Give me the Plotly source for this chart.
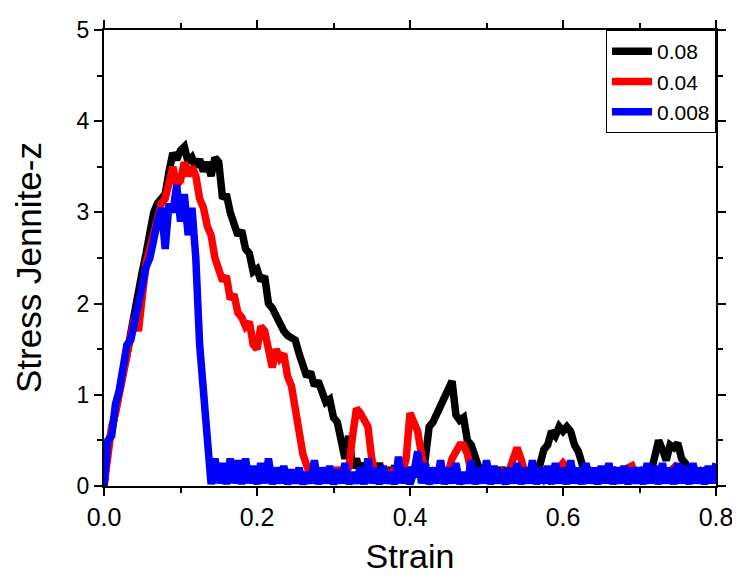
import numpy as np
import plotly.graph_objects as go

# strain grid (step 0.005, 0 .. 0.8)
strain = np.round(np.arange(0, 0.8001, 0.005), 3)

# stress for each rate
stress_008 = [
    0.0, 0.45, 0.6, 0.85, 1.05, 1.25, 1.45, 1.7, 1.9, 2.1,
    2.35, 2.55, 2.8, 3.0, 3.1, 3.15, 3.2, 3.45, 3.65, 3.58,
    3.68, 3.72, 3.55, 3.6, 3.5, 3.58, 3.45, 3.55, 3.4, 3.6,
    3.55, 3.15, 3.2, 3.0, 2.85, 2.75, 2.8, 2.6, 2.55, 2.35,
    2.38, 2.25, 2.3, 2.0, 1.95, 1.85, 1.8, 1.7, 1.65, 1.62,
    1.6, 1.45, 1.3, 1.2, 1.25, 1.1, 1.15, 1.0, 0.92, 0.95,
    0.75, 0.7, 0.5, 0.3, 0.55, 0.2, 0.3, 0.15, 0.25, 0.1,
    0.2, 0.1, 0.25, 0.1, 0.2, 0.08, 0.22, 0.1, 0.18, 0.1,
    0.2, 0.1, 0.22, 0.1, 0.3, 0.65, 0.7, 0.8, 0.85, 0.95,
    1.05, 1.15, 0.78, 0.72, 0.75, 0.5, 0.45, 0.3, 0.2, 0.1,
    0.2, 0.1, 0.18, 0.08, 0.2, 0.1, 0.15, 0.1, 0.2, 0.08,
    0.18, 0.1, 0.2, 0.08, 0.25, 0.4, 0.45, 0.6, 0.55, 0.65,
    0.6, 0.65, 0.6, 0.45, 0.38, 0.2, 0.1, 0.15, 0.08, 0.18,
    0.1, 0.15, 0.08, 0.2, 0.1, 0.15, 0.08, 0.18, 0.1, 0.15,
    0.08, 0.2, 0.1, 0.15, 0.3, 0.5, 0.4, 0.28, 0.45, 0.42,
    0.47, 0.3, 0.25, 0.1, 0.18, 0.08, 0.15, 0.1, 0.18, 0.1,
    0.15,
]

stress_004 = [
    0.0, 0.4, 0.65, 0.8, 1.0, 1.2, 1.45, 1.65, 1.85, 1.7,
    2.15, 2.45, 2.6, 2.8, 3.0, 3.1, 3.15, 3.3, 3.5, 3.3,
    3.35, 3.55, 3.4, 3.5, 3.4, 3.15, 3.05, 2.85, 2.75, 2.5,
    2.4, 2.25, 2.3, 2.05, 2.1, 1.9, 1.85, 1.75, 1.8, 1.55,
    1.5, 1.75, 1.7, 1.45, 1.3, 1.5, 1.4, 1.45, 1.2, 1.1,
    0.8, 0.6, 0.35, 0.2, 0.1, 0.2, 0.08, 0.18, 0.1, 0.15,
    0.08, 0.2, 0.1, 0.15, 0.2, 0.55, 0.85, 0.8, 0.7, 0.65,
    0.3, 0.1, 0.18, 0.08, 0.15, 0.1, 0.2, 0.08, 0.15, 0.3,
    0.8, 0.7, 0.6, 0.35, 0.15, 0.08, 0.15, 0.1, 0.2, 0.08,
    0.15, 0.3, 0.4, 0.45, 0.45, 0.35, 0.15, 0.08, 0.18, 0.1,
    0.15, 0.08, 0.2, 0.1, 0.15, 0.08, 0.18, 0.3, 0.42, 0.3,
    0.15, 0.08, 0.18, 0.1, 0.15, 0.08, 0.15, 0.1, 0.2, 0.2,
    0.25, 0.2, 0.1, 0.15, 0.08, 0.12, 0.08, 0.15, 0.1, 0.12,
    0.08, 0.15, 0.1, 0.12, 0.08, 0.15, 0.1, 0.2, 0.22, 0.12,
    0.08, 0.15, 0.1, 0.12, 0.08, 0.15, 0.1, 0.12, 0.15, 0.2,
    0.1, 0.12, 0.08, 0.15, 0.1, 0.12, 0.08, 0.15, 0.1, 0.12,
    0.1,
]

stress_0008 = [
    0.0, 0.5, 0.55, 0.9, 1.05, 1.3, 1.55, 1.6, 1.8, 2.0,
    2.15, 2.4, 2.5, 2.75, 2.9, 3.05, 2.6, 3.1, 3.0, 3.3,
    2.9, 3.2, 2.75, 3.05, 2.5, 1.55, 1.0, 0.4, 0.02, 0.3,
    0.03, 0.25, 0.02, 0.3, 0.03, 0.28, 0.02, 0.3, 0.03, 0.22,
    0.02, 0.25, 0.03, 0.3, 0.02, 0.2, 0.03, 0.22, 0.02, 0.18,
    0.03, 0.2, 0.02, 0.15, 0.03, 0.28, 0.02, 0.2, 0.03, 0.22,
    0.02, 0.18, 0.03, 0.25, 0.02, 0.15, 0.03, 0.2, 0.02, 0.3,
    0.03, 0.2, 0.02, 0.22, 0.03, 0.15, 0.02, 0.32, 0.03, 0.2,
    0.02, 0.15, 0.38, 0.03, 0.25, 0.02, 0.2, 0.03, 0.28, 0.02,
    0.2, 0.03, 0.25, 0.02, 0.15, 0.03, 0.28, 0.02, 0.2, 0.03,
    0.28, 0.02, 0.22, 0.03, 0.18, 0.02, 0.2, 0.03, 0.25, 0.02,
    0.2, 0.03, 0.28, 0.02, 0.2, 0.03, 0.22, 0.02, 0.25, 0.03,
    0.2, 0.02, 0.28, 0.03, 0.2, 0.02, 0.25, 0.03, 0.2, 0.02,
    0.22, 0.03, 0.25, 0.02, 0.2, 0.03, 0.22, 0.02, 0.2, 0.03,
    0.2, 0.02, 0.25, 0.03, 0.22, 0.02, 0.25, 0.03, 0.2, 0.02,
    0.25, 0.03, 0.22, 0.02, 0.25, 0.03, 0.2, 0.02, 0.22, 0.03,
    0.25,
]

series = [("0.08", stress_008, "#000000"),
          ("0.04", stress_004, "#ff0000"),
          ("0.008", stress_0008, "#0000ff")]

FONT = "Arial, Liberation Sans, sans-serif"

fig = go.Figure()
for name, ys, col in series:
    fig.add_trace(go.Scatter(x=strain, y=ys, mode="lines", name=name,
                             line=dict(color=col, width=7.5)))

axis_common = dict(
    showline=True, linecolor="black", linewidth=2, mirror="allticks",
    ticks="outside", ticklen=8, tickwidth=2, tickcolor="black",
    showgrid=False, zeroline=False, automargin=False,
)

fig.update_xaxes(range=[0, 0.8], dtick=0.2, tickformat=".1f",
                 tickfont=dict(family=FONT, size=25, color="black"),
                 minor=dict(dtick=0.1, ticks="outside", ticklen=5, tickwidth=2, tickcolor="black"),
                 title=dict(text="Strain", font=dict(family=FONT, size=34, color="black"),
                            standoff=14),
                 **axis_common)
fig.update_yaxes(range=[0, 5], dtick=1,
                 tickfont=dict(family=FONT, size=23, color="black"),
                 minor=dict(dtick=0.5, ticks="outside", ticklen=5, tickwidth=2, tickcolor="black"),
                 **axis_common)

# y title as an annotation so it can sit where the reference has it
fig.add_annotation(text="Stress Jennite-z", textangle=-90,
                   xref="paper", yref="paper", x=0, y=0.5,
                   xanchor="center", yanchor="middle", xshift=-76, yshift=-10,
                   showarrow=False, font=dict(family=FONT, size=35, color="black"))

# the page adds 8px body margin, so margins are shifted to compensate
fig.update_layout(
    width=740, height=581,
    margin=dict(l=96, r=32, t=22, b=103),
    plot_bgcolor="white", paper_bgcolor="white",
    showlegend=True,
    legend=dict(x=1, y=1, xanchor="right", yanchor="top",
                bordercolor="black", borderwidth=1, bgcolor="white",
                font=dict(family=FONT, size=21, color="black"),
                tracegroupgap=0, itemwidth=40),
)

fig.write_html("out.html")
